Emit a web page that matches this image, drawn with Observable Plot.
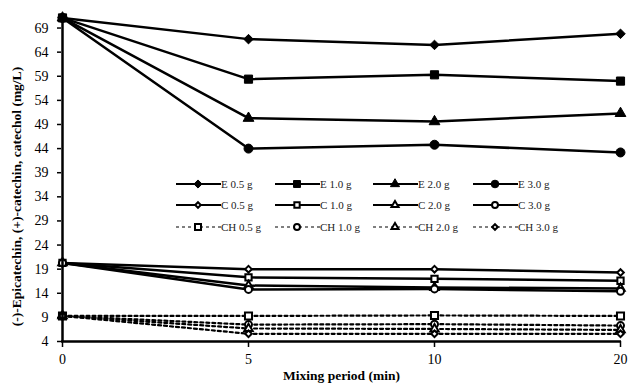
<!DOCTYPE html>
<html><head><meta charset="utf-8">
<script src="https://cdn.jsdelivr.net/npm/d3@7"></script>
<script src="https://cdn.jsdelivr.net/npm/@observablehq/plot@0.6"></script>
<style>
body{margin:0;background:#fff;}
#chart{position:relative;width:629px;height:387px;}
</style></head><body><div id="chart"></div>
<script>
const times = ["0", "5", "10", "20"];
const yTicks = [4, 9, 14, 19, 24, 29, 34, 39, 44, 49, 54, 59, 64, 69];
const E05 = [71.1, 66.7, 65.5, 67.8];
const E10 = [71.1, 58.4, 59.3, 58.0];
const E20 = [71.1, 50.3, 49.6, 51.3];
const E30 = [71.1, 44.0, 44.8, 43.2];
const C05 = [20.3, 19.0, 19.0, 18.3];
const C10 = [20.3, 17.3, 17.0, 16.6];
const C20 = [20.3, 15.6, 15.2, 15.0];
const C30 = [20.3, 14.8, 14.9, 14.4];
const CH05 = [9.3, 9.3, 9.4, 9.3];
const CH10 = [9.3, 7.5, 7.6, 7.3];
const CH20 = [9.3, 6.7, 6.6, 6.4];
const CH30 = [9.3, 5.6, 5.6, 5.6];
const xTitle = "Mixing period (min)";
const yTitle = "(-)-Epicatechin, (+)-catechin, catechol (mg/L)";

const series = [
  {name: "E 0.5 g", values: E05, group: "E", symbol: "diamond2", filled: true, r: 4.3},
  {name: "E 1.0 g", values: E10, group: "E", symbol: "square", filled: true, r: 4.6},
  {name: "E 2.0 g", values: E20, group: "E", symbol: "triangle", filled: true, r: 4},
  {name: "E 3.0 g", values: E30, group: "E", symbol: "circle", filled: true, r: 4.5},
  {name: "C 0.5 g", values: C05, group: "C", symbol: "diamond2", filled: false, r: 3},
  {name: "C 1.0 g", values: C10, group: "C", symbol: "square2", filled: false, r: 4},
  {name: "C 2.0 g", values: C20, group: "C", symbol: "triangle2", filled: false, r: 4},
  {name: "C 3.0 g", values: C30, group: "C", symbol: "circle", filled: false, r: 3.5},
  {name: "CH 0.5 g", values: CH05, group: "CH", symbol: "square2", filled: false, r: 4.5},
  {name: "CH 1.0 g", values: CH10, group: "CH", symbol: "circle", filled: false, r: 3.5},
  {name: "CH 2.0 g", values: CH20, group: "CH", symbol: "triangle2", filled: false, r: 4},
  {name: "CH 3.0 g", values: CH30, group: "CH", symbol: "diamond2", filled: false, r: 3}
];
const rows = series.flatMap(s => times.map((t, i) => ({series: s.name, time: t, value: s.values[i]})));

const lineMarks = series.map(s => Plot.line(rows.filter(d => d.series === s.name), {
  x: "time", y: "value", stroke: "black",
  strokeWidth: s.group === "CH" ? 2.2 : 2.5,
  strokeDasharray: s.group === "CH" ? "3,3" : null
}));
const dotMarks = series.map(s => Plot.dot(rows.filter(d => d.series === s.name), {
  x: "time", y: "value", symbol: s.symbol, r: s.r,
  fill: s.filled ? "black" : "white", stroke: "black",
  strokeWidth: s.filled ? 1 : 2
}));

const svg = Plot.plot({
  width: 629, height: 387,
  marginLeft: 61, marginRight: 8, marginTop: 15, marginBottom: 46,
  style: {fontFamily: "'Liberation Serif', 'Times New Roman', serif", background: "white", color: "black"},
  x: {type: "point", domain: times, padding: 0},
  y: {domain: [4, 71.6]},
  marks: [
    Plot.axisY({ticks: yTicks, tickSize: 4, tickPadding: 9, fontSize: 14, label: null, strokeWidth: 1.5}),
    Plot.axisX({tickSize: 6, tickPadding: 7, fontSize: 14, label: null, strokeWidth: 1.5}),
    ...lineMarks,
    ...dotMarks,
    Plot.ruleX([times[0]], {strokeWidth: 2.5}),
    Plot.ruleY([yTicks[0]], {strokeWidth: 2.5}),
    Plot.text([xTitle], {frameAnchor: "bottom", dy: 38, fontWeight: "bold", fontSize: 13.5}),
    Plot.text([yTitle], {frameAnchor: "left", textAnchor: "middle", rotate: -90, dx: -45, dy: 18, fontWeight: "bold", fontSize: 13.5})
  ]
});

// legend inside the plot area
const symMap = {diamond2: d3.symbolDiamond2, square: d3.symbolSquare, square2: d3.symbolSquare2,
  triangle: d3.symbolTriangle, triangle2: d3.symbolTriangle2, circle: d3.symbolCircle};
const colX = [176, 275, 373, 473];
const rowY = [184, 205, 227];
const lg = d3.select(svg).append("g").attr("class", "legend");
series.forEach((s, i) => {
  const col = i % 4, row = Math.floor(i / 4);
  const x0 = colX[col], y0 = rowY[row];
  const g = lg.append("g").attr("transform", `translate(${x0},${y0})`);
  g.append("line").attr("x1", 0).attr("x2", 45).attr("y1", 0).attr("y2", 0)
    .attr("stroke", "black").attr("stroke-width", s.group === "CH" ? 1.2 : 2)
    .attr("stroke-dasharray", s.group === "CH" ? "3,3" : null);
  g.append("path").attr("transform", `translate(22,0)`)
    .attr("d", d3.symbol(symMap[s.symbol], Math.pow(s.r * 0.85, 2) * Math.PI)())
    .attr("fill", s.filled ? "black" : "white").attr("stroke", "black")
    .attr("stroke-width", s.filled ? 1 : 2);
  g.append("text").attr("x", 45).attr("y", 0).attr("dy", "0.35em")
    .attr("text-anchor", "start")
    .attr("font-size", 11).attr("fill", "#222").text(s.name);
});

document.getElementById("chart").appendChild(svg);
</script></body></html>
